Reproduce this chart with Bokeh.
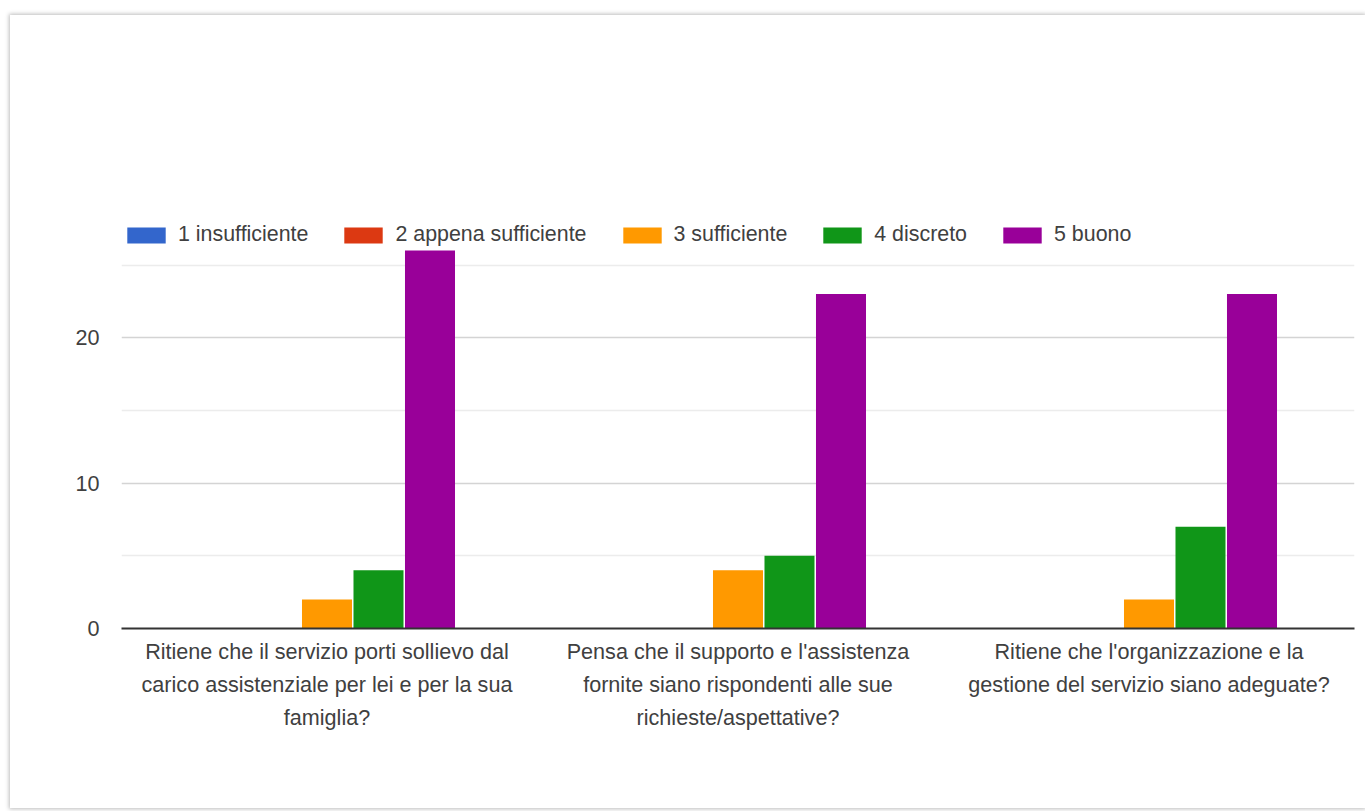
from bokeh.plotting import figure
from bokeh.models import (ColumnDataSource, FactorRange, Legend, LegendItem,
                          FixedTicker)
from bokeh.transform import dodge
from bokeh.embed import file_html
from bokeh.resources import INLINE

# ---- data ----
questions = [
    "Ritiene che il servizio porti sollievo dal\ncarico assistenziale per lei e per la sua\nfamiglia?",
    "Pensa che il supporto e l'assistenza\nfornite siano rispondenti alle sue\nrichieste/aspettative?",
    "Ritiene che l'organizzazione e la\ngestione del servizio siano adeguate?",
]
series_names = ["1 insufficiente", "2 appena sufficiente", "3 sufficiente",
                "4 discreto", "5 buono"]
s1_insufficiente = [0, 0, 0]
s2_appena = [0, 0, 0]
s3_sufficiente = [2, 4, 2]
s4_discreto = [4, 5, 7]
s5_buono = [26, 23, 23]
y_ticks = [0, 10, 20]
y_minor = [5, 15, 25]

colors = ["#3366CC", "#DC3912", "#FF9900", "#109618", "#990099"]

FONT = "Liberation Sans"
TXT = "#404040"
FS = "21.6px"

src = ColumnDataSource(dict(q=questions, s1=s1_insufficiente, s2=s2_appena,
                            s3=s3_sufficiente, s4=s4_discreto, s5=s5_buono))

p = figure(x_range=FactorRange(*questions), y_range=(0, 28.2),
           width=1355, height=793, output_backend="svg", toolbar_location=None,
           min_border_left=111, min_border_right=11, min_border_top=203,
           min_border_bottom=180)
p.margin = (15, 0, 0, 10)
p.styles = {"box-shadow": "0 0 4px 1px #bdbdbd"}
p.outline_line_color = None
p.background_fill_color = "white"
p.border_fill_color = "white"

step = 0.1253
bw = 0.1217
keys = ["s1", "s2", "s3", "s4", "s5"]
renderers = []
for i, (k, c) in enumerate(zip(keys, colors)):
    r = p.vbar(x=dodge("q", (i - 2) * step, range=p.x_range), top=k, width=bw,
               source=src, fill_color=c, line_color=None)
    renderers.append(r)

legend = Legend(items=[LegendItem(label=n, renderers=[r]) for n, r in zip(series_names, renderers)],
                orientation="horizontal", location=(1, 381))
legend.glyph_width = 48
legend.glyph_height = 20
legend.label_standoff = 8
legend.spacing = 31
legend.padding = 0
legend.margin = 0
legend.border_line_color = None
legend.background_fill_alpha = 0
legend.label_text_font = FONT
legend.label_text_font_size = "21.4px"
legend.label_text_color = TXT
legend.label_height = 20
p.add_layout(legend, "center")

# grid
p.xgrid.grid_line_color = None
p.ygrid.grid_line_color = "#d4d4d4"
p.ygrid.grid_line_width = 1.5
p.ygrid.minor_grid_line_color = "#ececec"
p.ygrid.minor_grid_line_width = 1.5
p.yaxis.ticker = FixedTicker(ticks=y_ticks, minor_ticks=y_minor)

# axes
p.yaxis.axis_line_color = None
p.yaxis.major_tick_line_color = None
p.yaxis.minor_tick_line_color = None
p.yaxis.major_label_standoff = 16
p.yaxis.major_label_text_font = FONT
p.yaxis.major_label_text_font_size = FS
p.yaxis.major_label_text_color = TXT

p.xaxis.axis_line_color = "#333333"
p.xaxis.axis_line_width = 2
p.xaxis.major_tick_line_color = None
p.xaxis.minor_tick_line_color = None
p.xaxis.major_label_standoff = 4
p.xaxis.major_label_text_font = FONT
p.xaxis.major_label_text_font_size = FS
p.xaxis.major_label_text_color = TXT
p.xaxis.major_label_text_line_height = 1.32

open("out.html", "w").write(file_html(p, INLINE))
